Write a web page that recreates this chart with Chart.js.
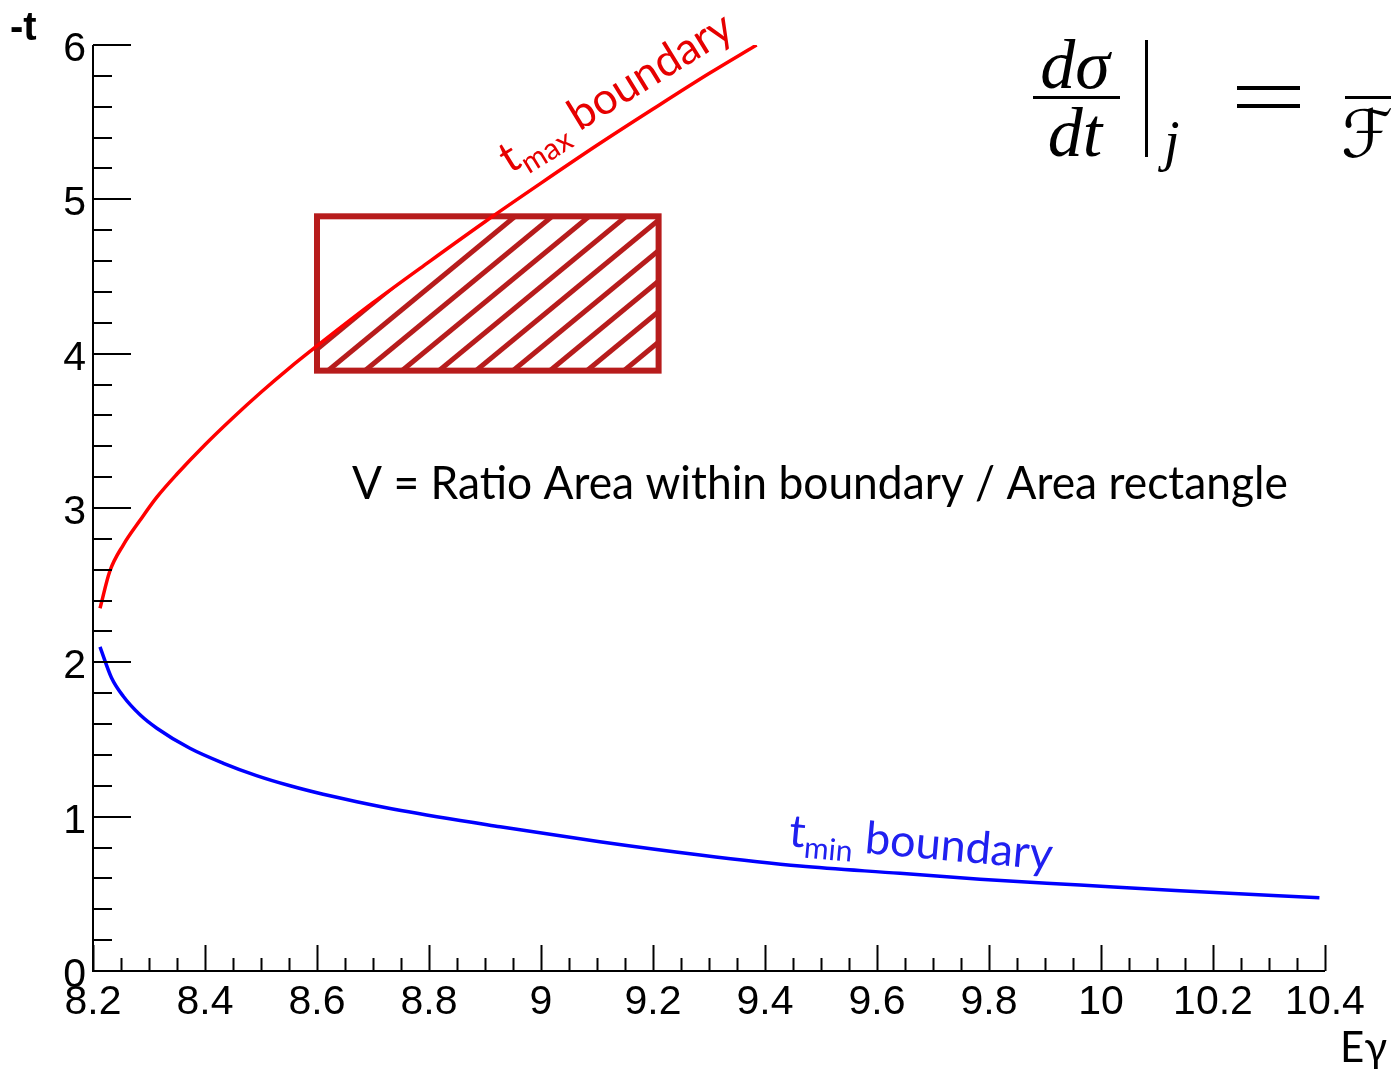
<!DOCTYPE html>
<html>
<head>
<meta charset="utf-8">
<script src="https://cdn.jsdelivr.net/npm/chart.js@4.4.1/dist/chart.umd.min.js"></script>
<style>
  html, body { margin: 0; padding: 0; background: #ffffff; }
  #wrap { width: 1391px; height: 1069px; position: relative; }
</style>
</head>
<body>
<div id="wrap"><canvas id="c" width="1391" height="1069"></canvas></div>
<script>
// Kinematic boundaries of -t versus photon energy Eγ (GeV)
const tmaxE = [8.2125, 8.230, 8.254, 8.284, 8.314, 8.35, 8.40, 8.45, 8.50, 8.55, 8.60, 8.70, 8.80, 8.90, 9.00, 9.10, 9.20, 9.30, 9.385];
const tmaxT = [2.35, 2.59, 2.76, 2.92, 3.07, 3.22, 3.41, 3.585, 3.75, 3.905, 4.05, 4.33, 4.595, 4.855, 5.105, 5.35, 5.585, 5.815, 6.00];

const tminE = [8.2125, 8.233, 8.254, 8.284, 8.314, 8.373, 8.433, 8.492, 8.552, 8.611, 8.671, 8.75, 8.927, 9.105, 9.284, 9.4625, 9.641, 9.784, 9.9625, 10.141, 10.39];
const tminT = [2.10, 1.90, 1.78, 1.66, 1.573, 1.443, 1.346, 1.266, 1.20, 1.145, 1.097, 1.04, 0.935, 0.838, 0.752, 0.680, 0.633, 0.594, 0.557, 0.520, 0.475];

// Bin rectangle (Eγ range, -t range)
const rectE = [8.6, 9.21];
const rectT = [3.89, 4.89];

// Axis ranges and tick labels
const xRange = [8.2, 10.4];
const yRange = [0, 6];
const xTickValues = [8.2, 8.4, 8.6, 8.8, 9.0, 9.2, 9.4, 9.6, 9.8, 10.0, 10.2, 10.4];
const xTickLabels = ['8.2', '8.4', '8.6', '8.8', '9', '9.2', '9.4', '9.6', '9.8', '10', '10.2', '10.4'];
const yTickValues = [0, 1, 2, 3, 4, 5, 6];
const yTickLabels = ['0', '1', '2', '3', '4', '5', '6'];

const toPoints = (xs, ys) => xs.map((x, i) => ({ x: x, y: ys[i] }));

const RED = '#ff0000';
const BLUE = '#0000ff';
const BOX = '#b71c1c';
const SANS = 'Lato, "Open Sans", sans-serif';

function drawText(ctx, s, x, y, font, color, align, baseline, scaleX) {
  ctx.save();
  ctx.font = font;
  ctx.fillStyle = color;
  ctx.textAlign = align || 'left';
  ctx.textBaseline = baseline || 'alphabetic';
  ctx.translate(x, y);
  if (scaleX) ctx.scale(scaleX, 1);
  ctx.fillText(s, 0, 0);
  ctx.restore();
}

// text fitted to a given width
function drawFitted(ctx, s, x, y, font, color, width) {
  ctx.save();
  ctx.font = font;
  const w = ctx.measureText(s).width;
  ctx.restore();
  drawText(ctx, s, x, y, font, color, 'left', 'alphabetic', width / w);
}

// "t_sub boundary" label along a curve
function drawBoundaryLabel(ctx, x, y, angle, sub, color, big, small, drop) {
  ctx.save();
  ctx.translate(x, y);
  ctx.rotate(angle * Math.PI / 180);
  ctx.fillStyle = color;
  ctx.textBaseline = 'alphabetic';
  ctx.textAlign = 'left';
  let cx = 0;
  ctx.font = big + 'px ' + SANS;
  ctx.fillText('t', cx, 0);
  cx += ctx.measureText('t').width;
  ctx.font = small + 'px ' + SANS;
  ctx.fillText(sub, cx, drop);
  cx += ctx.measureText(sub).width;
  ctx.font = big + 'px ' + SANS;
  cx += ctx.measureText(' ').width;
  ctx.fillText('boundary', cx, 0);
  ctx.restore();
}

const decorations = {
  id: 'decorations',
  beforeDatasetsDraw(chart) {
    const ctx = chart.ctx;
    const xs = chart.scales.x, ys = chart.scales.y;
    const L = xs.getPixelForValue(rectE[0]), R = xs.getPixelForValue(rectE[1]);
    const T = ys.getPixelForValue(rectT[1]), B = ys.getPixelForValue(rectT[0]);

    // hatched part of the bin: inside the box and below the t_max curve
    ctx.save();
    ctx.beginPath();
    ctx.rect(L, T, R - L, B - T);
    ctx.clip();
    const pts = tmaxE.map((e, i) => [xs.getPixelForValue(e), ys.getPixelForValue(tmaxT[i])]);
    ctx.beginPath();
    ctx.moveTo(pts[0][0], pts[0][1]);
    for (let i = 1; i < pts.length; i++) ctx.lineTo(pts[i][0], pts[i][1]);
    const last = pts[pts.length - 1];
    ctx.lineTo(last[0] + 3000, last[1]);
    ctx.lineTo(last[0] + 3000, 3000);
    ctx.lineTo(pts[0][0], 3000);
    ctx.closePath();
    ctx.clip();
    ctx.strokeStyle = BOX;
    ctx.lineWidth = 5;
    const ang = 39.5 * Math.PI / 180;
    const c = Math.cos(ang), s = Math.sin(ang);
    const step = 37;
    const x0 = L + 85;
    for (let k = -30; k <= 30; k++) {
      const px = x0 + k * step;
      ctx.beginPath();
      ctx.moveTo(px - 1000 * c, B + 1000 * s);
      ctx.lineTo(px + 1000 * c, B - 1000 * s);
      ctx.stroke();
    }
    ctx.restore();

    // box outline
    ctx.save();
    ctx.strokeStyle = BOX;
    ctx.lineWidth = 6;
    ctx.strokeRect(L, T, R - L, B - T);
    ctx.restore();
  },
  afterDatasetsDraw(chart) {
    const ctx = chart.ctx;
    const xs = chart.scales.x, ys = chart.scales.y;
    const x0 = xs.getPixelForValue(xRange[0]), x1 = xs.getPixelForValue(xRange[1]);
    const y0 = ys.getPixelForValue(yRange[0]), y1 = ys.getPixelForValue(yRange[1]);

    ctx.save();
    ctx.strokeStyle = '#000';
    ctx.lineWidth = 2;
    ctx.lineCap = 'butt';
    // axis lines
    ctx.beginPath();
    ctx.moveTo(x0, y1);
    ctx.lineTo(x0, y0);
    ctx.lineTo(x1, y0);
    ctx.stroke();
    // x ticks (inward, upward)
    for (let i = 0; i <= 44; i++) {
      const v = xRange[0] + i * 0.05;
      const px = Math.round(xs.getPixelForValue(v)) + 0.5;
      const len = (i % 4 === 0) ? 26 : 13;
      ctx.beginPath();
      ctx.moveTo(px, y0);
      ctx.lineTo(px, y0 - len);
      ctx.stroke();
    }
    // y ticks (inward, rightward)
    for (let i = 0; i <= 30; i++) {
      const v = yRange[0] + i * 0.2;
      const py = Math.round(ys.getPixelForValue(v));
      const len = (i % 5 === 0) ? 38 : 19;
      ctx.beginPath();
      ctx.moveTo(x0, py);
      ctx.lineTo(x0 + len, py);
      ctx.stroke();
    }
    ctx.restore();

    // tick labels
    const tickFont = '41px "Liberation Sans", Arial, sans-serif';
    xTickValues.forEach((v, i) => {
      drawText(ctx, xTickLabels[i], xs.getPixelForValue(v), 1014, tickFont, '#000', 'center', 'alphabetic');
    });
    yTickValues.forEach((v, i) => {
      drawText(ctx, yTickLabels[i], 86, ys.getPixelForValue(v) + 16, tickFont, '#000', 'right', 'alphabetic');
    });

    // axis titles
    drawText(ctx, '-t', 10, 40, 'bold 40px "Liberation Sans", Arial, sans-serif', '#000', 'left', 'alphabetic');
    drawText(ctx, 'Eγ', 1340, 1062, '42px ' + SANS, '#000', 'left', 'alphabetic');

    // curve labels
    drawBoundaryLabel(ctx, 510, 174, -31.5, 'max', '#e60000', 44, 30, 10);
    drawBoundaryLabel(ctx, 788, 846, 5.2, 'min', '#2020f0', 45, 30, 10);

    // acceptance definition
    drawFitted(ctx, 'V = Ratio Area within boundary / Area rectangle', 352, 499, '47px ' + SANS, '#000', 936);

    // cross-section formula
    const serif = '"Liberation Serif", "DejaVu Serif", serif';
    drawText(ctx, 'dσ', 1075, 88, 'italic 70px ' + serif, '#000', 'center', 'alphabetic');
    drawText(ctx, 'dt', 1075, 156, 'italic 70px ' + serif, '#000', 'center', 'alphabetic');
    ctx.save();
    ctx.fillStyle = '#000';
    ctx.fillRect(1033, 96, 87, 3);
    ctx.fillRect(1145, 40, 3, 117);
    ctx.fillRect(1237, 86, 63, 4);
    ctx.fillRect(1237, 104, 63, 4);
    ctx.fillRect(1345, 96, 50, 3);
    ctx.restore();
    drawText(ctx, 'j', 1164, 160, 'italic 56px ' + serif, '#000', 'left', 'alphabetic');
    drawText(ctx, 'ℱ', 1341, 157, '66px "DejaVu Serif", "DejaVu Sans", serif', '#000', 'left', 'alphabetic');
  }
};

new Chart(document.getElementById('c'), {
  type: 'scatter',
  data: {
    datasets: [
      {
        label: 't_max',
        data: toPoints(tmaxE, tmaxT),
        showLine: true,
        borderColor: RED,
        borderWidth: 3.5,
        pointRadius: 0,
        fill: false,
        cubicInterpolationMode: 'monotone'
      },
      {
        label: 't_min',
        data: toPoints(tminE, tminT),
        showLine: true,
        borderColor: BLUE,
        borderWidth: 3.5,
        pointRadius: 0,
        fill: false,
        cubicInterpolationMode: 'monotone'
      }
    ]
  },
  options: {
    responsive: false,
    animation: false,
    devicePixelRatio: 1,
    layout: { padding: { left: 93, right: 66, top: 45, bottom: 98 } },
    plugins: { legend: { display: false }, tooltip: { enabled: false } },
    scales: {
      x: { type: 'linear', min: xRange[0], max: xRange[1], display: false },
      y: { type: 'linear', min: yRange[0], max: yRange[1], display: false }
    }
  },
  plugins: [decorations]
});
</script>
</body>
</html>
